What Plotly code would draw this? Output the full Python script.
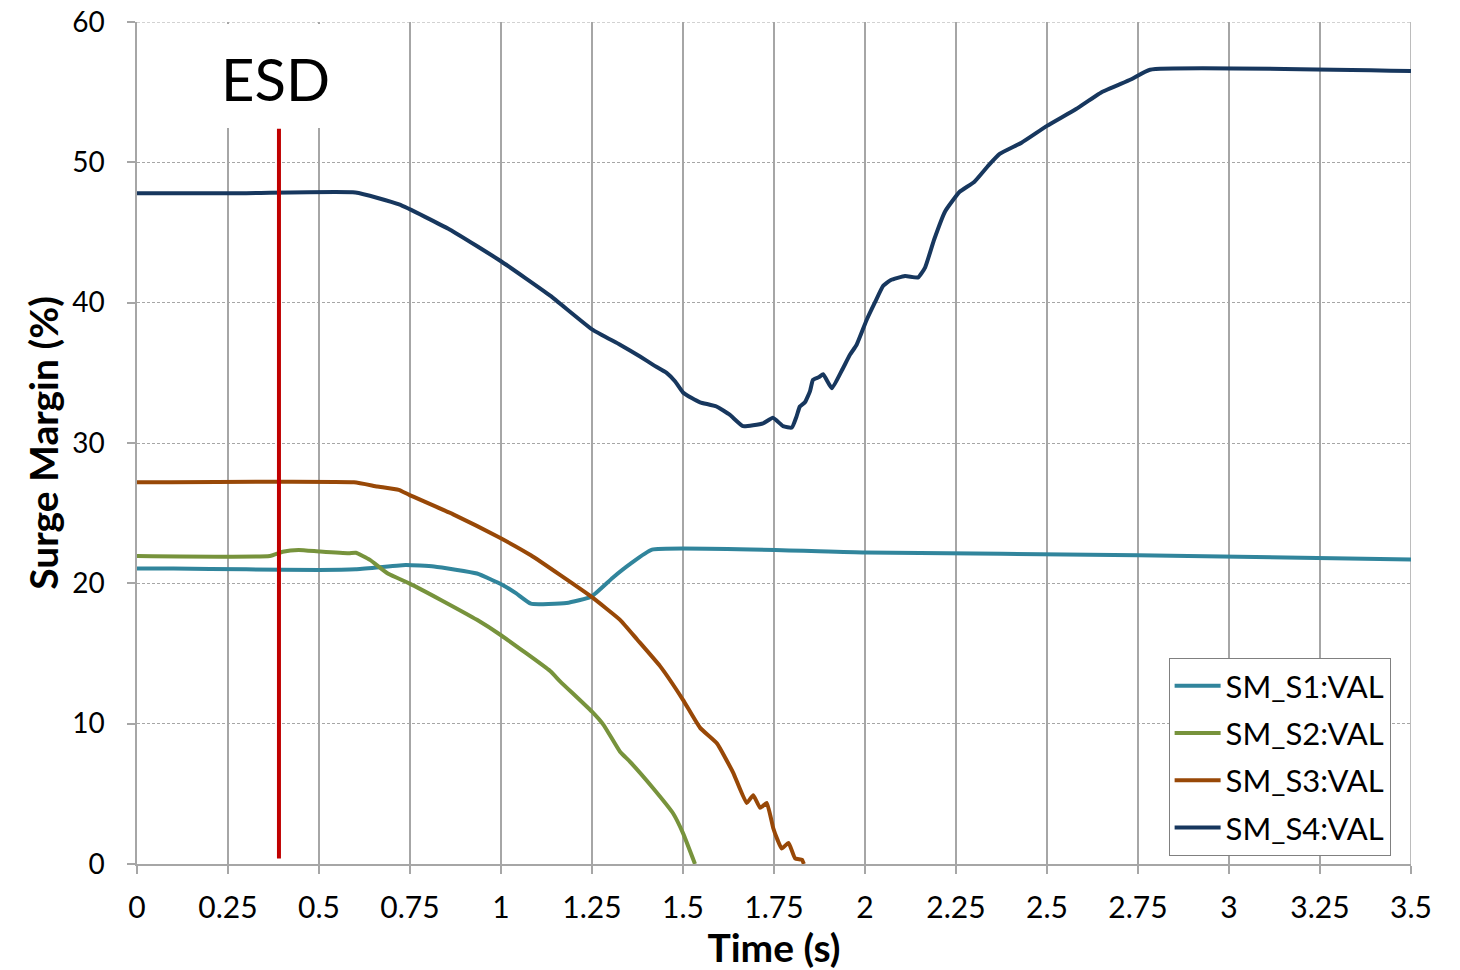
import plotly.graph_objects as go

# ---- data ----
t1 = [0, 0.1, 0.3, 0.5, 0.601, 0.738, 0.816, 0.934, 1.003, 1.041, 1.082, 1.18, 1.248, 1.307, 1.356, 1.415, 2.0, 2.75, 3.5]
s1 = [21.05, 21.05, 21.0, 20.95, 21.0, 21.3, 21.2, 20.7, 19.9, 19.3, 18.55, 18.6, 19.05, 20.4, 21.4, 22.4, 22.2, 22.0, 21.7]

t2 = [0, 0.365, 0.40, 0.444, 0.503, 0.582, 0.601, 0.640, 0.689, 0.748, 0.836, 0.934, 1.0, 1.135, 1.163,
      1.25, 1.282, 1.327, 1.354, 1.418, 1.473, 1.5, 1.533]
s2 = [21.95, 21.95, 22.25, 22.38, 22.26, 22.14, 22.18, 21.67, 20.7, 20.0, 18.8, 17.4, 16.3, 13.75, 13.0,
      10.85, 9.9, 8.0, 7.3, 5.4, 3.6, 2.2, 0.0]

t3 = [0, 0.596, 0.66, 0.719, 0.748, 0.87, 0.993, 1.082, 1.162, 1.248, 1.327, 1.374, 1.437, 1.5, 1.547,
      1.593, 1.638, 1.675, 1.693, 1.712, 1.73, 1.748, 1.76, 1.771, 1.79, 1.808, 1.827, 1.832]
s3 = [27.2, 27.2, 26.9, 26.66, 26.3, 24.9, 23.3, 22.0, 20.6, 19.05, 17.4, 16.0, 14.1, 11.7, 9.7,
      8.6, 6.5, 4.35, 4.9, 4.0, 4.35, 2.55, 1.7, 1.1, 1.5, 0.4, 0.3, 0.0]

t4 = [0, 0.3, 0.6, 0.72, 0.86, 1.0, 1.135, 1.25, 1.327, 1.382, 1.418, 1.455, 1.478, 1.5, 1.524, 1.547,
      1.592, 1.629, 1.665, 1.72, 1.747, 1.775, 1.799, 1.812, 1.821, 1.835, 1.849, 1.857, 1.874, 1.885,
      1.909, 1.937, 1.959, 1.977, 2.005, 2.027, 2.05, 2.07, 2.11, 2.146, 2.165, 2.19, 2.22, 2.26, 2.3,
      2.34, 2.37, 2.43, 2.5, 2.58, 2.65, 2.73, 2.783, 3.5]
s4 = [47.8, 47.8, 47.85, 47.0, 45.2, 42.95, 40.5, 38.1, 37.0, 36.16, 35.57, 35.0, 34.4, 33.6, 33.2, 32.9,
      32.6, 32.0, 31.2, 31.4, 31.8, 31.2, 31.1, 31.9, 32.6, 32.9, 33.7, 34.5, 34.7, 34.9,
      33.9, 35.2, 36.3, 37.0, 38.8, 40.0, 41.2, 41.6, 41.9, 41.8, 42.5, 44.5, 46.5, 47.9, 48.6,
      49.8, 50.6, 51.4, 52.6, 53.8, 55.0, 55.9, 56.6, 56.5]

series_names = ["SM_S1:VAL", "SM_S2:VAL", "SM_S3:VAL", "SM_S4:VAL"]
series_colors = ["#31859C", "#77933C", "#984807", "#17375E"]

x_ticks = [0, 0.25, 0.5, 0.75, 1, 1.25, 1.5, 1.75, 2, 2.25, 2.5, 2.75, 3, 3.25, 3.5]
x_tick_labels = ["0", "0.25", "0.5", "0.75", "1", "1.25", "1.5", "1.75", "2", "2.25", "2.5", "2.75", "3", "3.25", "3.5"]
y_ticks = [0, 10, 20, 30, 40, 50, 60]

esd_time = 0.39
esd_line_range = [0.4, 52.4]

FONT = "Lato, 'Open Sans', sans-serif"
GRID = "#A6A6A6"

fig = go.Figure()
for i, (t, s, n, c) in enumerate(zip([t1, t2, t3, t4], [s1, s2, s3, s4], series_names, series_colors)):
    fig.add_trace(go.Scatter(x=t, y=s, mode="lines", name=n, legendgroup=f"g{i}",
                             line=dict(color=c, width=4, shape="spline", smoothing=0.4)))

# white box behind the ESD label (hides gridlines)
fig.add_shape(type="rect", xref="x", yref="y", x0=0.008, x1=0.736, y0=52.45, y1=59.85,
              fillcolor="white", line=dict(width=0), layer="between")
# ESD marker line
fig.add_shape(type="line", xref="x", yref="y", x0=esd_time, x1=esd_time,
              y0=esd_line_range[0], y1=esd_line_range[1],
              line=dict(color="#C00000", width=4), layer="above")
# top dashed border and right solid border
fig.add_shape(type="line", xref="paper", yref="y", x0=0, x1=1, y0=60, y1=60,
              line=dict(color=GRID, width=1.2, dash="3px,2px"), layer="below")
fig.add_shape(type="line", xref="x", yref="paper", x0=3.5, x1=3.5, y0=0, y1=1,
              line=dict(color=GRID, width=1.5), layer="below")

fig.add_annotation(x=0.381, y=56.0, xref="x", yref="y", text="ESD", showarrow=False,
                   font=dict(family=FONT, size=58, color="black"))

fig.update_layout(
    width=1452, height=962,
    margin=dict(l=129, r=49, t=14, b=106, autoexpand=False),
    paper_bgcolor="white", plot_bgcolor="white",
    font=dict(family=FONT, size=30, color="black"),
    showlegend=True,
    legend=dict(x=0.984, y=0.0095, xanchor="right", yanchor="bottom",
                bgcolor="white", bordercolor="#808080", borderwidth=1,
                tracegroupgap=4, itemwidth=46,
                font=dict(family=FONT, size=31, color="black")),
    xaxis=dict(range=[0, 3.5], tickvals=x_ticks, ticktext=x_tick_labels, automargin=False,
               showgrid=True, gridcolor=GRID, gridwidth=1.5,
               showline=True, linecolor=GRID, linewidth=1.5,
               ticks="outside", ticklen=8, tickcolor=GRID, tickwidth=1.5,
               ticklabelstandoff=8, zeroline=False, ticklabeloverflow="allow",
               tickfont=dict(family=FONT, size=30),
               title=dict(text="<b>Time (s)</b>", font=dict(family=FONT, size=39), standoff=8)),
    yaxis=dict(range=[0, 60], tickvals=y_ticks, automargin=False,
               showgrid=True, gridcolor=GRID, gridwidth=1.2, griddash="3px,2px",
               showline=True, linecolor=GRID, linewidth=1.5,
               ticks="outside", ticklen=8, tickcolor=GRID, tickwidth=1.5,
               ticklabelstandoff=17, zeroline=False, ticklabeloverflow="allow",
               tickfont=dict(family=FONT, size=28),
               title=dict(text="<b>Surge Margin (%)</b>", font=dict(family=FONT, size=39), standoff=2)),
)

fig.write_html("out.html")
